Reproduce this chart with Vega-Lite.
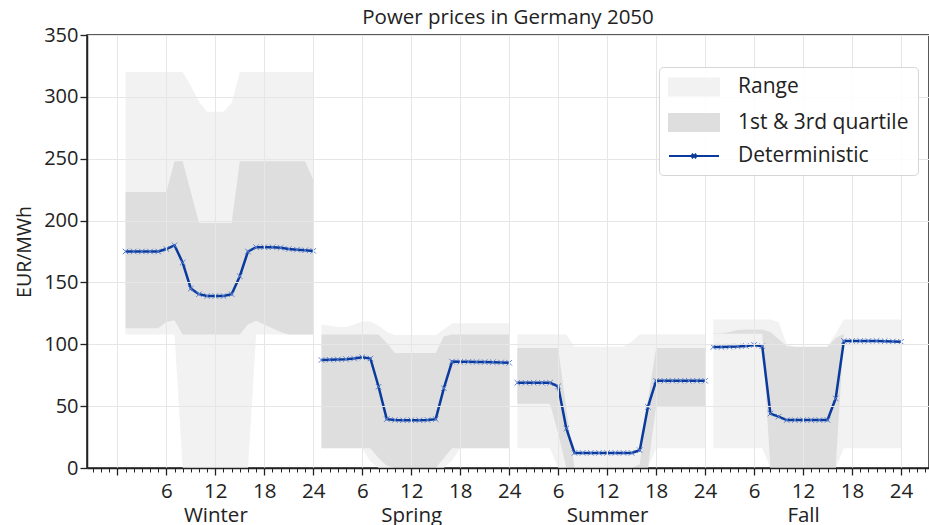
{
  "$schema": "https://vega.github.io/schema/vega-lite/v6.json",
  "width": 842,
  "height": 433,
  "autosize": {"type": "none"},
  "padding": {"left": 87, "top": 35, "right": 0, "bottom": 57},
  "background": "white",
  "title": {"text": "Power prices in Germany 2050", "fontSize": 20.5, "font": "Open Sans", "fontWeight": "normal", "color": "#222222", "offset": -3, "anchor": "middle"},
  "config": {
    "view": {"stroke": "#222222", "strokeWidth": 1.5},
    "legend": {
      "orient": "none", "legendX": 572, "legendY": 32, "padding": 9, "zindex": 3,
      "strokeColor": "#d6d6d6", "fillColor": "rgba(255,255,255,0.85)", "cornerRadius": 4,
      "labelFont": "Open Sans", "labelFontSize": 21, "labelColor": "#222222", "labelOffset": 33, "labelLimit": 500,
      "symbolSize": 400, "symbolOffset": 15, "rowPadding": 9.5, "symbolStrokeWidth": 2
    }
  },
  "data": {"values": [
    {"t":1,"s":"Winter","det":175,"mx":320,"q3":223,"q1":113,"mn":108},
    {"t":2,"s":"Winter","det":175,"mx":320,"q3":223,"q1":113,"mn":108},
    {"t":3,"s":"Winter","det":175,"mx":320,"q3":223,"q1":113,"mn":108},
    {"t":4,"s":"Winter","det":175,"mx":320,"q3":223,"q1":113,"mn":108},
    {"t":5,"s":"Winter","det":175,"mx":320,"q3":223,"q1":113,"mn":108},
    {"t":6,"s":"Winter","det":177,"mx":320,"q3":223,"q1":118,"mn":108},
    {"t":7,"s":"Winter","det":180,"mx":320,"q3":248,"q1":119.5,"mn":108},
    {"t":8,"s":"Winter","det":166,"mx":320,"q3":248,"q1":108,"mn":0},
    {"t":9,"s":"Winter","det":145,"mx":309,"q3":223,"q1":108,"mn":0},
    {"t":10,"s":"Winter","det":140.5,"mx":296,"q3":198,"q1":108,"mn":0},
    {"t":11,"s":"Winter","det":139,"mx":288,"q3":198,"q1":108,"mn":0},
    {"t":12,"s":"Winter","det":139,"mx":288,"q3":198,"q1":108,"mn":0},
    {"t":13,"s":"Winter","det":139,"mx":288,"q3":198,"q1":108,"mn":0},
    {"t":14,"s":"Winter","det":140.5,"mx":295,"q3":198,"q1":108,"mn":0},
    {"t":15,"s":"Winter","det":155,"mx":320,"q3":248,"q1":108,"mn":0},
    {"t":16,"s":"Winter","det":175,"mx":320,"q3":248,"q1":116,"mn":0},
    {"t":17,"s":"Winter","det":178.5,"mx":320,"q3":248,"q1":119,"mn":108},
    {"t":18,"s":"Winter","det":178.5,"mx":320,"q3":248,"q1":116,"mn":108},
    {"t":19,"s":"Winter","det":178.5,"mx":320,"q3":248,"q1":113,"mn":108},
    {"t":20,"s":"Winter","det":178,"mx":320,"q3":248,"q1":110,"mn":108},
    {"t":21,"s":"Winter","det":177,"mx":320,"q3":248,"q1":108,"mn":108},
    {"t":22,"s":"Winter","det":176.5,"mx":320,"q3":248,"q1":108,"mn":108},
    {"t":23,"s":"Winter","det":176,"mx":320,"q3":248,"q1":108,"mn":108},
    {"t":24,"s":"Winter","det":175.5,"mx":320,"q3":233,"q1":108,"mn":108},
    {"t":25,"s":"Spring","det":87.3,"mx":116,"q3":108,"q1":16,"mn":16},
    {"t":26,"s":"Spring","det":87.5,"mx":115,"q3":108,"q1":16,"mn":16},
    {"t":27,"s":"Spring","det":87.7,"mx":114,"q3":108,"q1":16,"mn":16},
    {"t":28,"s":"Spring","det":88,"mx":114,"q3":108,"q1":16,"mn":16},
    {"t":29,"s":"Spring","det":88.5,"mx":116,"q3":108,"q1":16,"mn":16},
    {"t":30,"s":"Spring","det":89.5,"mx":118.5,"q3":108,"q1":16,"mn":16},
    {"t":31,"s":"Spring","det":88.5,"mx":118.5,"q3":108,"q1":16,"mn":5},
    {"t":32,"s":"Spring","det":65.7,"mx":115,"q3":108,"q1":8,"mn":0},
    {"t":33,"s":"Spring","det":39.5,"mx":110,"q3":101,"q1":2,"mn":0},
    {"t":34,"s":"Spring","det":38.8,"mx":107.5,"q3":93,"q1":0,"mn":0},
    {"t":35,"s":"Spring","det":38.6,"mx":107.5,"q3":93,"q1":0,"mn":0},
    {"t":36,"s":"Spring","det":38.6,"mx":107.5,"q3":93,"q1":0,"mn":0},
    {"t":37,"s":"Spring","det":38.6,"mx":107.5,"q3":93,"q1":0,"mn":0},
    {"t":38,"s":"Spring","det":38.8,"mx":107.5,"q3":93,"q1":0,"mn":0},
    {"t":39,"s":"Spring","det":39.5,"mx":107.5,"q3":93,"q1":0,"mn":0},
    {"t":40,"s":"Spring","det":64.5,"mx":112,"q3":106.5,"q1":8,"mn":0},
    {"t":41,"s":"Spring","det":86,"mx":117,"q3":108,"q1":16,"mn":6},
    {"t":42,"s":"Spring","det":85.8,"mx":117,"q3":108,"q1":16,"mn":16},
    {"t":43,"s":"Spring","det":85.8,"mx":117,"q3":108,"q1":16,"mn":16},
    {"t":44,"s":"Spring","det":85.7,"mx":117,"q3":108,"q1":16,"mn":16},
    {"t":45,"s":"Spring","det":85.6,"mx":117,"q3":108,"q1":16,"mn":16},
    {"t":46,"s":"Spring","det":85.5,"mx":117,"q3":108,"q1":16,"mn":16},
    {"t":47,"s":"Spring","det":85.3,"mx":117,"q3":108,"q1":16,"mn":16},
    {"t":48,"s":"Spring","det":85,"mx":117,"q3":108,"q1":16,"mn":16},
    {"t":49,"s":"Summer","det":68.9,"mx":108,"q3":97,"q1":52,"mn":16},
    {"t":50,"s":"Summer","det":68.9,"mx":108,"q3":97,"q1":52,"mn":16},
    {"t":51,"s":"Summer","det":68.9,"mx":108,"q3":97,"q1":52,"mn":16},
    {"t":52,"s":"Summer","det":68.9,"mx":108,"q3":97,"q1":52,"mn":16},
    {"t":53,"s":"Summer","det":68.9,"mx":108,"q3":97,"q1":52,"mn":16},
    {"t":54,"s":"Summer","det":66,"mx":108,"q3":97,"q1":28,"mn":0},
    {"t":55,"s":"Summer","det":32,"mx":108,"q3":48,"q1":0,"mn":0},
    {"t":56,"s":"Summer","det":12.2,"mx":98,"q3":0,"q1":0,"mn":0},
    {"t":57,"s":"Summer","det":12.2,"mx":98,"q3":0,"q1":0,"mn":0},
    {"t":58,"s":"Summer","det":12.2,"mx":98,"q3":0,"q1":0,"mn":0},
    {"t":59,"s":"Summer","det":12.2,"mx":98,"q3":0,"q1":0,"mn":0},
    {"t":60,"s":"Summer","det":12.2,"mx":98,"q3":0,"q1":0,"mn":0},
    {"t":61,"s":"Summer","det":12.2,"mx":98,"q3":0,"q1":0,"mn":0},
    {"t":62,"s":"Summer","det":12.2,"mx":98,"q3":0,"q1":0,"mn":0},
    {"t":63,"s":"Summer","det":12.2,"mx":102,"q3":0,"q1":0,"mn":0},
    {"t":64,"s":"Summer","det":14.4,"mx":108,"q3":3,"q1":0,"mn":0},
    {"t":65,"s":"Summer","det":49.4,"mx":108,"q3":55,"q1":0,"mn":0},
    {"t":66,"s":"Summer","det":70.5,"mx":108,"q3":97,"q1":50,"mn":16},
    {"t":67,"s":"Summer","det":70.5,"mx":108,"q3":97,"q1":50,"mn":16},
    {"t":68,"s":"Summer","det":70.5,"mx":108,"q3":97,"q1":50,"mn":16},
    {"t":69,"s":"Summer","det":70.5,"mx":108,"q3":97,"q1":50,"mn":16},
    {"t":70,"s":"Summer","det":70.5,"mx":108,"q3":97,"q1":50,"mn":16},
    {"t":71,"s":"Summer","det":70.5,"mx":108,"q3":97,"q1":50,"mn":16},
    {"t":72,"s":"Summer","det":70.5,"mx":108,"q3":97,"q1":50,"mn":16},
    {"t":73,"s":"Fall","det":97.8,"mx":120,"q3":109,"q1":108.5,"mn":16},
    {"t":74,"s":"Fall","det":97.8,"mx":120,"q3":109,"q1":108.5,"mn":16},
    {"t":75,"s":"Fall","det":98,"mx":120,"q3":110,"q1":108.5,"mn":16},
    {"t":76,"s":"Fall","det":98.2,"mx":120,"q3":111.5,"q1":108.5,"mn":16},
    {"t":77,"s":"Fall","det":98.6,"mx":120,"q3":112,"q1":108.5,"mn":16},
    {"t":78,"s":"Fall","det":99.5,"mx":120,"q3":112,"q1":108.5,"mn":16},
    {"t":79,"s":"Fall","det":98.5,"mx":120,"q3":112,"q1":108.5,"mn":16},
    {"t":80,"s":"Fall","det":44,"mx":120,"q3":110,"q1":0,"mn":0},
    {"t":81,"s":"Fall","det":41.5,"mx":118,"q3":104,"q1":0,"mn":0},
    {"t":82,"s":"Fall","det":38.7,"mx":100,"q3":98.5,"q1":0,"mn":0},
    {"t":83,"s":"Fall","det":38.7,"mx":98,"q3":98,"q1":0,"mn":0},
    {"t":84,"s":"Fall","det":38.7,"mx":98,"q3":98,"q1":0,"mn":0},
    {"t":85,"s":"Fall","det":38.7,"mx":98,"q3":98,"q1":0,"mn":0},
    {"t":86,"s":"Fall","det":38.7,"mx":98,"q3":98,"q1":0,"mn":0},
    {"t":87,"s":"Fall","det":38.8,"mx":98,"q3":98,"q1":0,"mn":0},
    {"t":88,"s":"Fall","det":56.2,"mx":108.5,"q3":105,"q1":0,"mn":0},
    {"t":89,"s":"Fall","det":102.7,"mx":120,"q3":108.5,"q1":108.5,"mn":16},
    {"t":90,"s":"Fall","det":102.7,"mx":120,"q3":108.5,"q1":108.5,"mn":16},
    {"t":91,"s":"Fall","det":102.7,"mx":120,"q3":108.5,"q1":108.5,"mn":16},
    {"t":92,"s":"Fall","det":102.7,"mx":120,"q3":108.5,"q1":108.5,"mn":16},
    {"t":93,"s":"Fall","det":102.7,"mx":120,"q3":108.5,"q1":108.5,"mn":16},
    {"t":94,"s":"Fall","det":102.5,"mx":120,"q3":108.5,"q1":108.5,"mn":16},
    {"t":95,"s":"Fall","det":102.3,"mx":120,"q3":108.5,"q1":108.5,"mn":16},
    {"t":96,"s":"Fall","det":102,"mx":120,"q3":108.5,"q1":108.5,"mn":16}
  ]},
  "layer": [
    {
      "mark": {"type": "area", "interpolate": "linear"},
      "encoding": {
        "x": {"field": "t", "type": "quantitative",
          "scale": {"domain": [-3.72, 99.43], "nice": false, "zero": false},
          "axis": {
            "orient": "bottom", "title": null,
            "values": [0, 6, 12, 18, 24, 30, 36, 42, 48, 54, 60, 66, 72, 78, 84, 90, 96],
            "labelExpr": "datum.value == 0 ? '' : datum.value == 12 ? ['12', 'Winter'] : datum.value == 36 ? ['12', 'Spring'] : datum.value == 60 ? ['12', 'Summer'] : datum.value == 84 ? ['12', 'Fall'] : (datum.value % 24 == 0 ? '24' : '' + (datum.value % 24))",
            "labelFont": "Open Sans", "labelFontSize": 20.5, "labelLineHeight": 24, "labelColor": "#222222",
            "labelPadding": 6, "labelOverlap": false, "labelFlush": false,
            "tickSize": 7, "tickWidth": 1.3, "tickColor": "#222222",
            "domainColor": "#222222", "domainWidth": 1.5,
            "grid": true, "gridColor": "#e6e6e6", "gridWidth": 1, "zindex": 1
          }},
        "y": {"field": "mn", "type": "quantitative",
          "scale": {"domain": [0, 350], "nice": false},
          "axis": {
            "values": [0, 50, 100, 150, 200, 250, 300, 350],
            "title": "EUR/MWh", "titleFont": "Open Sans", "titleFontSize": 19.5, "titleFontWeight": "normal", "titleColor": "#222222", "titlePadding": 9,
            "labelFont": "Open Sans", "labelFontSize": 20, "labelColor": "#222222", "labelPadding": 2,
            "tickSize": 7, "tickWidth": 1.3, "tickColor": "#222222",
            "domainColor": "#222222", "domainWidth": 1.5,
            "grid": true, "gridColor": "#e6e6e6", "gridWidth": 1, "zindex": 1
          }},
        "y2": {"field": "mx"},
        "detail": {"field": "s"},
        "color": {"datum": "Range", "type": "nominal",
          "scale": {"domain": ["Range", "1st & 3rd quartile", "Deterministic"], "range": ["#f2f2f2", "#dedede", "#0a3a9c"]},
          "legend": {"title": null,
            "encode": {"symbols": {"update": {
              "shape": {"signal": "datum.label === 'Deterministic' ? 'M-2.5,0H2.5M-0.22,-0.22L0.22,0.22M-0.22,0.22L0.22,-0.22' : 'M-2.5,-0.85H2.5V0.85H-2.5Z'"},
              "fill": {"signal": "datum.label === 'Deterministic' ? 'transparent' : (datum.label === 'Range' ? '#f2f2f2' : '#dedede')"},
              "stroke": {"signal": "datum.label === 'Deterministic' ? '#0a3a9c' : 'transparent'"},
              "strokeWidth": {"value": 2},
              "opacity": {"value": 1}
            }}}
          }}
      }
    },
    {
      "mark": {"type": "area", "interpolate": "linear"},
      "encoding": {
        "x": {"field": "t", "type": "quantitative", "axis": null},
        "y": {"field": "q1", "type": "quantitative"},
        "y2": {"field": "q3"},
        "detail": {"field": "s"},
        "color": {"datum": "1st & 3rd quartile", "type": "nominal"}
      }
    },
    {
      "mark": {"type": "line", "strokeWidth": 2.5},
      "encoding": {
        "x": {"field": "t", "type": "quantitative", "axis": null},
        "y": {"field": "det", "type": "quantitative"},
        "detail": {"field": "s"},
        "color": {"datum": "Deterministic", "type": "nominal"}
      }
    },
    {
      "mark": {"type": "point", "shape": "M-1,-1L1,1M-1,1L1,-1", "filled": false, "size": 30, "strokeWidth": 1, "color": "#5a7fd0", "opacity": 1},
      "encoding": {
        "x": {"field": "t", "type": "quantitative",
          "axis": {
            "orient": "bottom", "title": null, "labels": false, "grid": false, "domain": false,
            "values": [-3, -2, -1, 0, 1, 2, 3, 4, 5, 6, 7, 8, 9, 10, 11, 12, 13, 14, 15, 16, 17, 18, 19, 20, 21, 22, 23, 24, 25, 26, 27, 28, 29, 30, 31, 32, 33, 34, 35, 36, 37, 38, 39, 40, 41, 42, 43, 44, 45, 46, 47, 48, 49, 50, 51, 52, 53, 54, 55, 56, 57, 58, 59, 60, 61, 62, 63, 64, 65, 66, 67, 68, 69, 70, 71, 72, 73, 74, 75, 76, 77, 78, 79, 80, 81, 82, 83, 84, 85, 86, 87, 88, 89, 90, 91, 92, 93, 94, 95, 96, 97, 98, 99],
            "tickSize": 4, "tickWidth": 1, "tickColor": "#222222"
          }},
        "y": {"field": "det", "type": "quantitative"}
      }
    }
  ],
  "resolve": {"axis": {"x": "independent"}}
}
